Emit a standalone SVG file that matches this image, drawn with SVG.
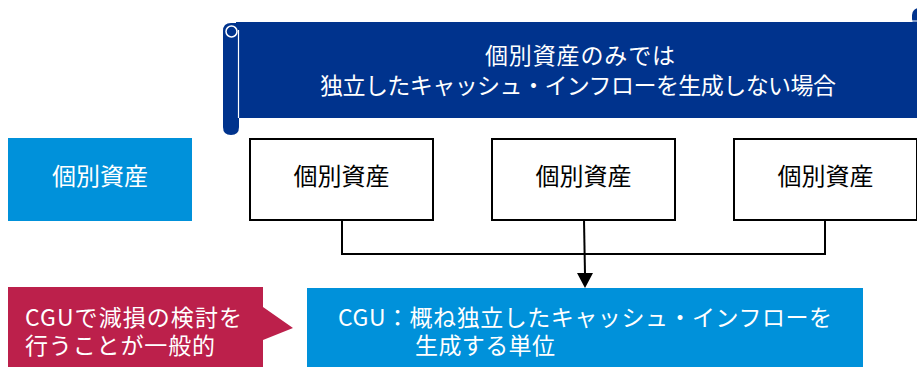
<svg xmlns="http://www.w3.org/2000/svg" width="917" height="367" viewBox="0 0 917 367">
<style>
text{font-family:"Noto Sans CJK JP","Noto Sans",sans-serif;font-size:23px}
.w{fill:#ffffff}
.k{fill:#000000}
.c{text-anchor:middle}
.b{font-size:24px}
.box{fill:#ffffff;stroke:#000000;stroke-width:2}
.conn{fill:none;stroke:#000000;stroke-width:2}
</style>
<rect width="917" height="367" fill="#ffffff"/>
<g id="scroll">
<rect x="912" y="8" width="20" height="18" rx="7" fill="#00338D"/>
<rect x="236" y="22" width="700" height="96" fill="#00338D"/>
<line x1="912" y1="21" x2="917" y2="21" stroke="#ffffff" stroke-width="1"/>
<path d="M223,31 Q223,23 231,23 L239,23 L239,127 Q239,135 231,135 Q223,135 223,127 Z" fill="#00338D"/>
<line x1="238.5" y1="30" x2="238.5" y2="118" stroke="#ffffff" stroke-width="1.2"/>
<circle cx="231.5" cy="31.5" r="5.5" fill="none" stroke="#ffffff" stroke-width="1.5"/>
<text class="w c" x="580" y="63.5" textLength="190">個別資産のみでは</text>
<text class="w c" x="578" y="94" textLength="516">独立したキャッシュ・インフローを生成しない場合</text>
</g>
<g id="label-asset">
<rect x="8" y="138" width="184" height="83" fill="#0091DA"/>
<text class="w c b" x="100" y="185">個別資産</text>
</g>
<g id="asset1">
<rect class="box" x="250" y="139" width="183" height="81"/>
<text class="k c b" x="341.5" y="185">個別資産</text>
</g>
<g id="asset2">
<rect class="box" x="492" y="139" width="183" height="81"/>
<text class="k c b" x="583.5" y="185">個別資産</text>
</g>
<g id="asset3">
<rect class="box" x="734" y="139" width="183" height="81"/>
<text class="k c b" x="825.5" y="185">個別資産</text>
</g>
<g id="connectors">
<polyline class="conn" points="342,220 342,254 825,254 825,220"/>
<line class="conn" x1="584" y1="220" x2="585" y2="274"/>
<path d="M577,273 L593,273 L585,288 Z" fill="#000000"/>
</g>
<g id="cgu">
<rect x="307" y="288" width="556" height="79" fill="#0091DA"/>
<text class="w" x="338" y="326" textLength="494">CGU：概ね独立したキャッシュ・インフローを</text>
<text class="w" x="415" y="354" textLength="140">生成する単位</text>
</g>
<g id="callout">
<path d="M8,287 L263,287 L263,307 L293,328 L263,340 L263,367 L8,367 Z" fill="#BC204B"/>
<text class="w" x="25" y="325.5" textLength="217">CGUで減損の検討を</text>
<text class="w" x="25" y="353.5" textLength="190">行うことが一般的</text>
</g>
</svg>
